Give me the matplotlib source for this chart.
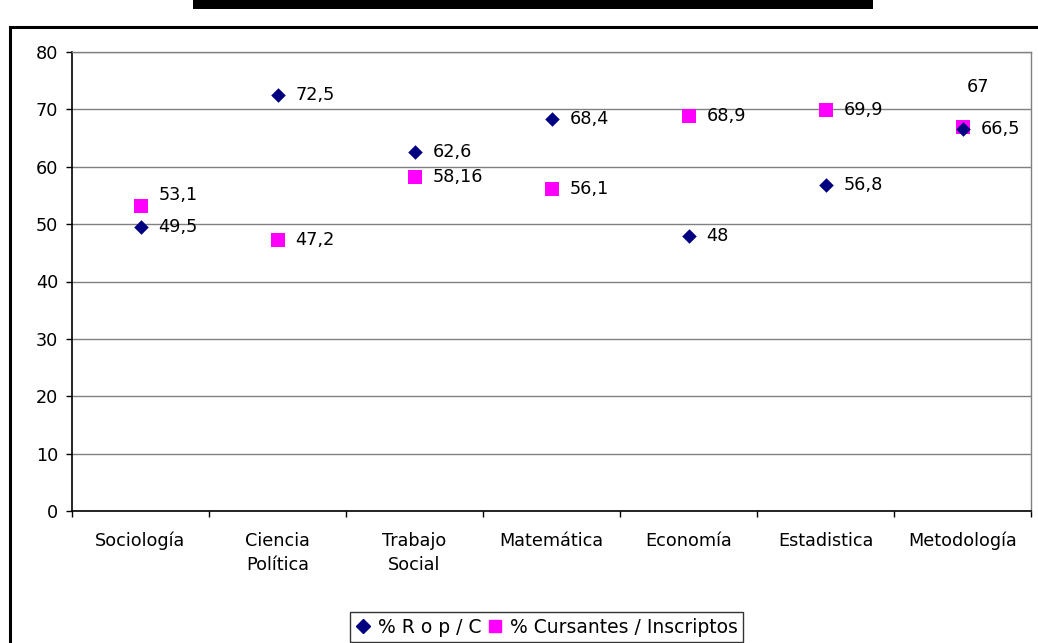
import matplotlib
matplotlib.use("Agg")
import matplotlib.pyplot as plt
from matplotlib.patches import Rectangle
from matplotlib.lines import Line2D

categories = ["Sociología", "Ciencia\nPolítica", "Trabajo\nSocial", "Matemática",
              "Economía", "Estadistica", "Metodología"]
rop_c = [49.5, 72.5, 62.6, 68.4, 48, 56.8, 66.5]
rop_labels = ["49,5", "72,5", "62,6", "68,4", "48", "56,8", "66,5"]
cursantes = [53.1, 47.2, 58.16, 56.1, 68.9, 69.9, 67]
curs_labels = ["53,1", "47,2", "58,16", "56,1", "68,9", "69,9", "67"]
series_names = ["% R o p / C", "% Cursantes / Inscriptos"]
yticks = [0, 10, 20, 30, 40, 50, 60, 70, 80]

plt.rcParams['font.family'] = ['DejaVu Sans']
FS = 12.7

W, H = 1038, 643
fig = plt.figure(figsize=(W / 100, H / 100), dpi=100)

# outer chart border and cut-off title bar
fig.patches.append(Rectangle((10 / W, -0.1), 1.2, (H - 27) / H + 0.1, transform=fig.transFigure,
                             fill=False, edgecolor='black', linewidth=2.2))
fig.patches.append(Rectangle((193 / W, 1 - 9 / H), (873 - 193) / W, 9 / H + 0.01,
                             transform=fig.transFigure, facecolor='black', edgecolor='none'))

ax = fig.add_axes([72 / W, (H - 511) / H, (1031 - 72) / W, (511 - 52) / H])
x = list(range(len(categories)))

ax.scatter(x, rop_c, marker='D', s=55, color='#000080', zorder=4, linewidths=0)
ax.scatter(x, cursantes, marker='s', s=90, color='#FF00FF', zorder=3, linewidths=0)

special = {("c", 0): (13, 8, 'left'), ("c", 6): (11.5, 28.5, 'center')}
for i, (v, lab) in enumerate(zip(rop_c, rop_labels)):
    ax.annotate(lab, (i, v), xytext=(13, 0), textcoords='offset points',
                ha='left', va='center', fontsize=FS, zorder=5)
for i, (v, lab) in enumerate(zip(cursantes, curs_labels)):
    dx, dy, ha = special.get(("c", i), (13, 0, 'left'))
    ax.annotate(lab, (i, v), xytext=(dx, dy), textcoords='offset points',
                ha=ha, va='center', fontsize=FS, zorder=5)

ax.set_xlim(-0.5, len(categories) - 0.5)
ax.set_ylim(0, 80)
ax.set_yticks(yticks)
ax.set_yticklabels([str(t) for t in yticks], fontsize=FS)
ax.yaxis.grid(True, color='#808080', linewidth=1.0)
ax.set_axisbelow(True)

ax.set_xticks(x)
ax.set_xticklabels(categories, fontsize=FS, linespacing=1.45)
ax.set_xticks([i + 0.5 for i in range(-1, len(categories))], minor=True)
ax.tick_params(axis='x', which='major', length=0, pad=15)
ax.tick_params(axis='x', which='minor', length=4, width=1, direction='out')
ax.tick_params(axis='y', which='major', length=4, width=1, direction='out', pad=6)

for s in ['left', 'bottom']:
    ax.spines[s].set_color('black')
    ax.spines[s].set_linewidth(1.2)
for s in ['top', 'right']:
    ax.spines[s].set_color('#808080')
    ax.spines[s].set_linewidth(1.0)

handles = [Line2D([], [], marker='D', linestyle='none', color='#000080', markersize=7),
           Line2D([], [], marker='s', linestyle='none', color='#FF00FF', markersize=9)]
leg = fig.legend(handles, series_names, loc='upper left',
                 bbox_to_anchor=(350 / W, 1 - 612 / H), ncol=2, fontsize=13.5,
                 frameon=True, fancybox=False, handlelength=0.8, handletextpad=0.4,
                 columnspacing=0.3, borderpad=0.3, borderaxespad=0)
leg.get_frame().set_edgecolor('black')
leg.get_frame().set_linewidth(1.0)

fig.savefig("out.png", dpi=100, facecolor='white')
